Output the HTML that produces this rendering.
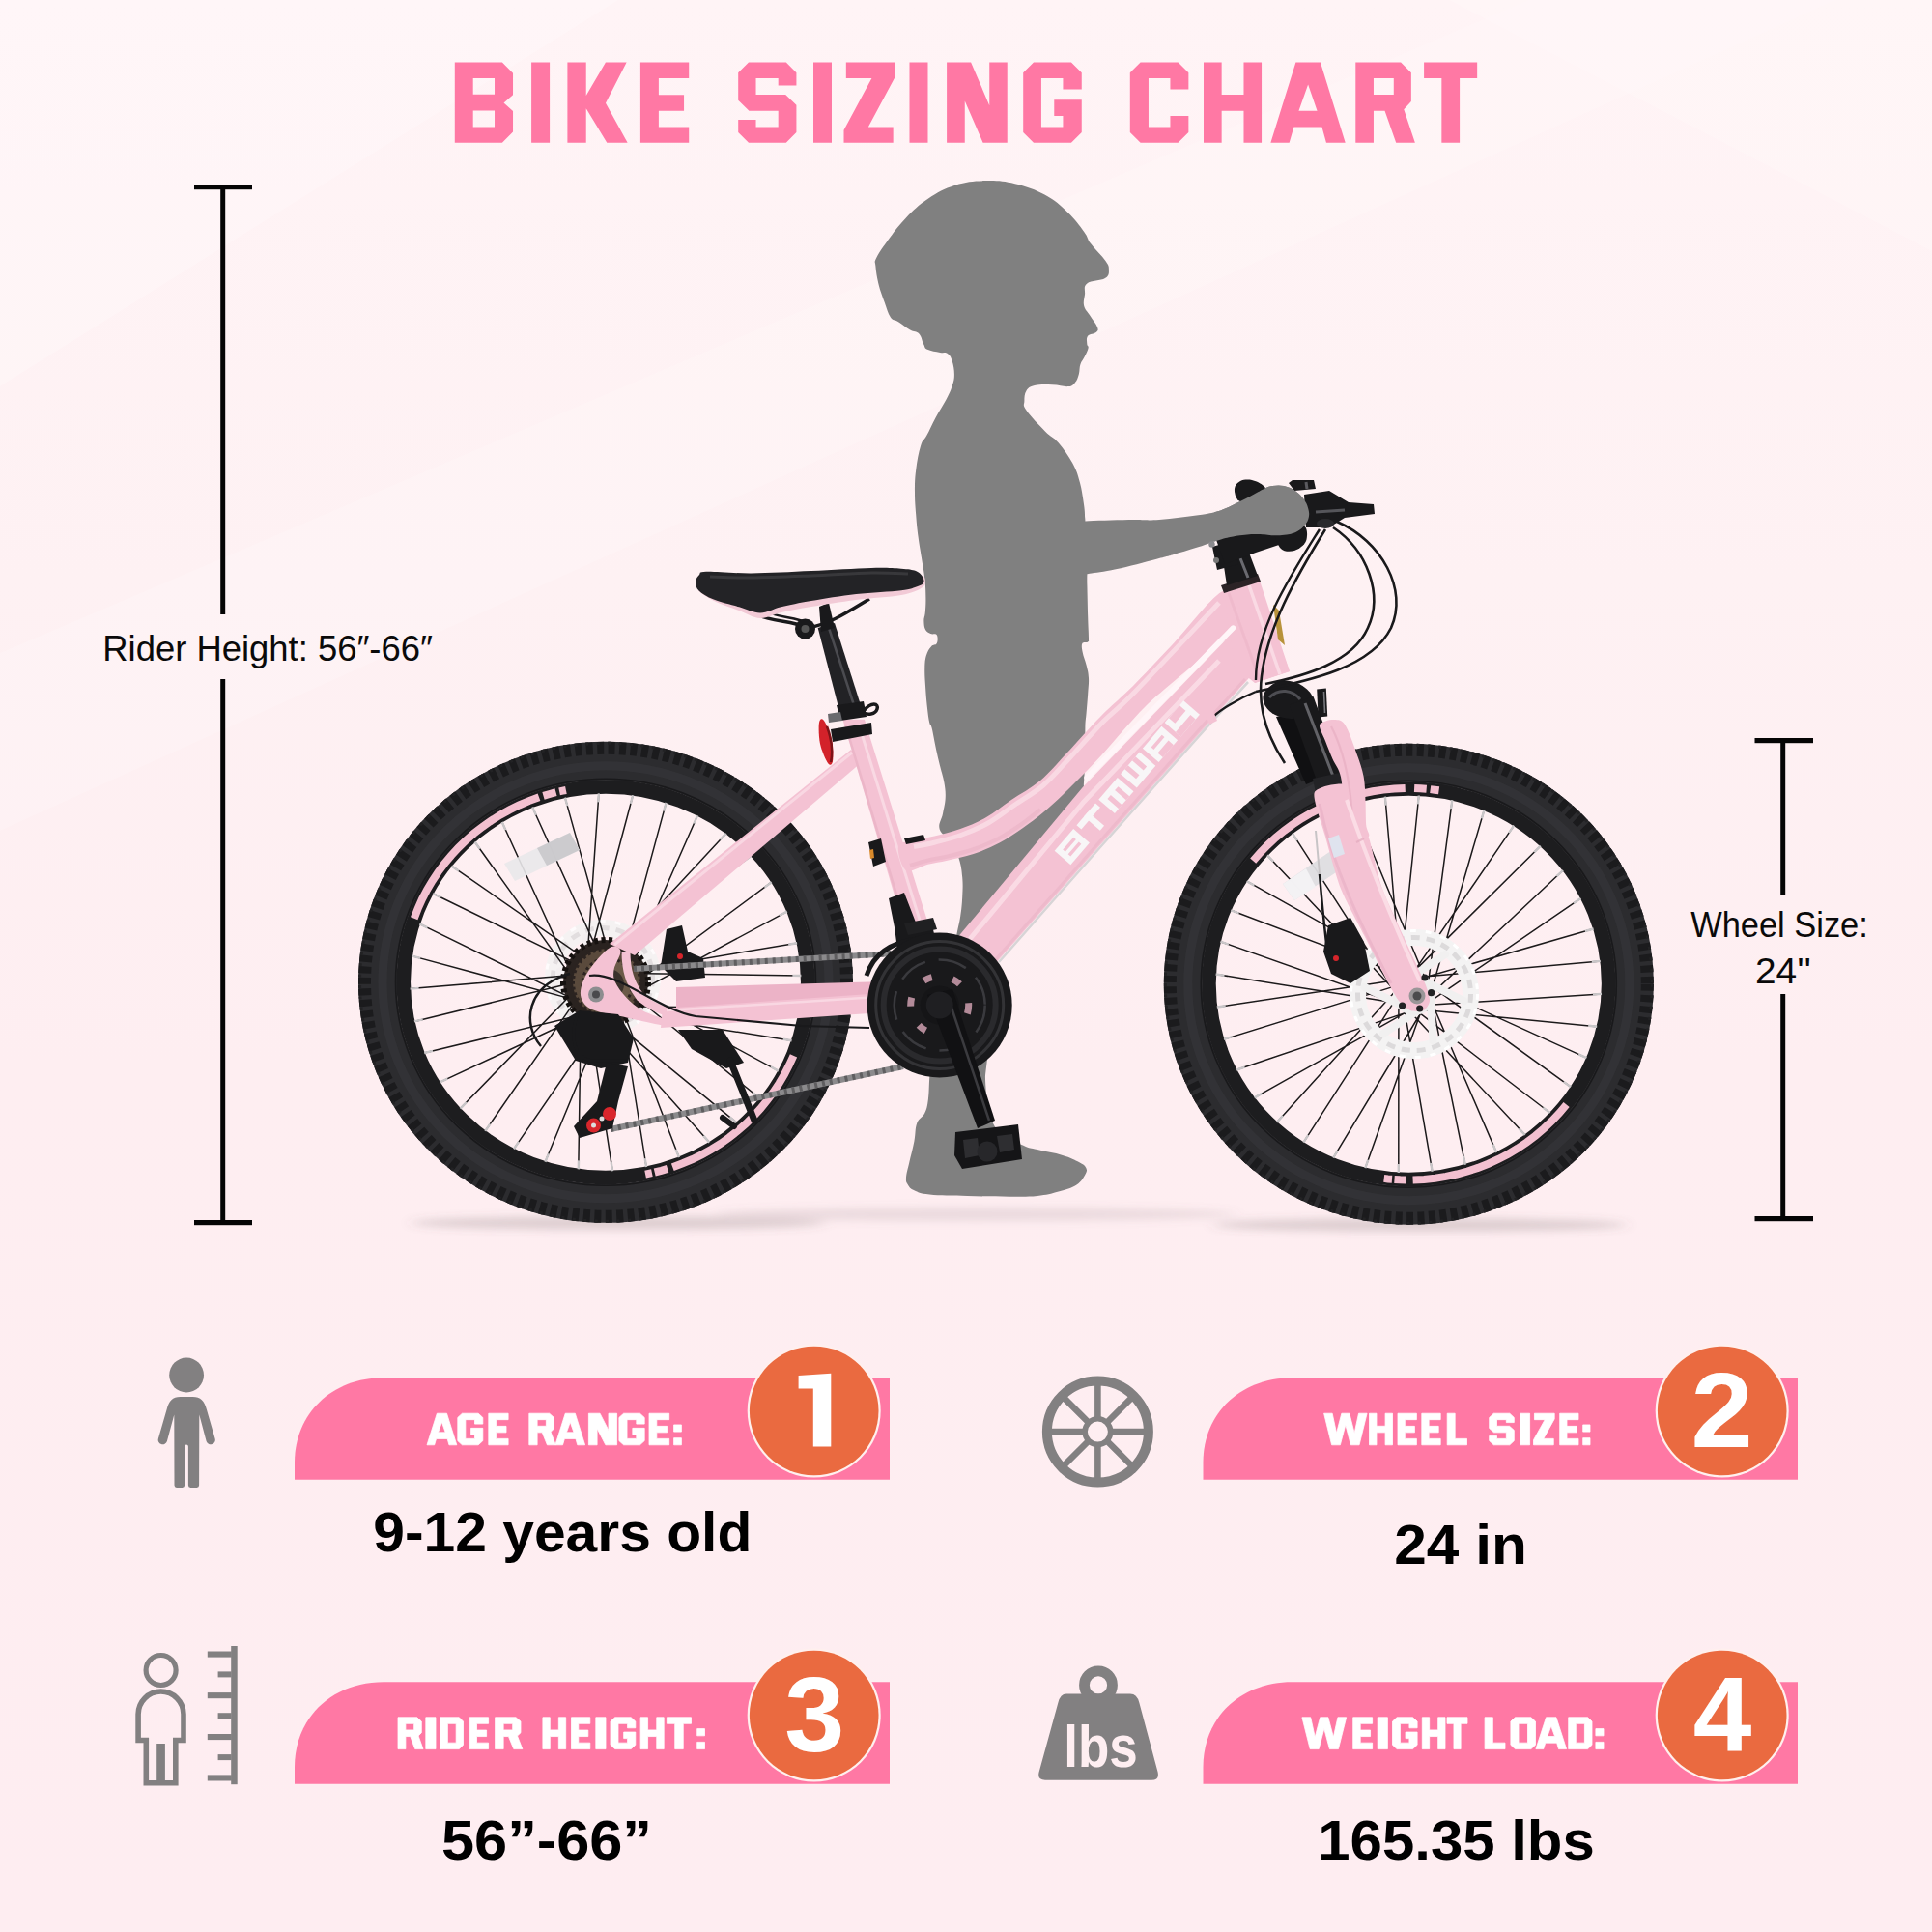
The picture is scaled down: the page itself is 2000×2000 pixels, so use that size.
<!DOCTYPE html>
<html><head><meta charset="utf-8"><title>Bike Sizing Chart</title>
<style>html,body{margin:0;padding:0;background:#feeef1;}body{width:2000px;height:2000px;overflow:hidden;font-family:"Liberation Sans",sans-serif;}svg{display:block;}</style>
</head><body>
<svg width="2000" height="2000" viewBox="0 0 2000 2000">
<defs><filter id="blur6" x="-20%" y="-200%" width="140%" height="500%"><feGaussianBlur stdDeviation="7 4"/></filter></defs>
<defs><linearGradient id="bgg" x1="0" y1="0" x2="0" y2="1"><stop offset="0" stop-color="#fff4f6"/><stop offset="0.3" stop-color="#fef1f3"/><stop offset="0.55" stop-color="#feeef1"/><stop offset="1" stop-color="#feedf1"/></linearGradient></defs>
<rect x="0" y="0" width="2000" height="2000" fill="url(#bgg)"/>
<polygon points="0,0 640,0 0,400" fill="#ffffff" opacity="0.22"/>
<polygon points="0,676 1583,0 1900,0 0,860" fill="#ffffff" opacity="0.16"/>
<polygon points="1500,0 2000,0 2000,260" fill="#ffffff" opacity="0.18"/>
<path d="M470.80 64.50 L519.86 64.50 L531.03 75.75 L531.03 98.32 L521.53 106.57 L531.03 115.06 L531.03 136.55 L519.86 147.80 L470.80 147.80ZM489.71 80.99 L512.03 80.99 L512.03 97.65 L489.71 97.65ZM489.71 114.40 L512.03 114.40 L512.03 131.39 L489.71 131.39ZM550.10 64.50 L569.09 64.50 L569.09 147.80 L550.10 147.80ZM587.40 64.50 L606.73 64.50 L606.73 98.99 L626.97 64.50 L648.63 64.50 L626.97 106.73 L649.63 147.80 L628.30 147.80 L606.73 112.31 L606.73 147.80 L587.40 147.80ZM662.90 64.50 L713.21 64.50 L713.21 80.99 L681.89 80.99 L681.89 98.15 L708.05 98.15 L708.05 114.65 L681.89 114.65 L681.89 131.39 L713.21 131.39 L713.21 147.80 L662.90 147.80ZM775.03 64.50 L813.76 64.50 L824.43 75.33 L824.43 88.49 L805.68 88.49 L805.68 80.99 L782.53 80.99 L782.53 97.90 L813.18 97.90 L824.43 108.73 L824.43 136.97 L813.76 147.80 L775.03 147.80 L764.20 136.97 L764.20 123.89 L782.53 123.89 L782.53 131.39 L805.68 131.39 L805.68 114.65 L775.45 114.65 L764.20 103.65 L764.20 75.33ZM842.00 64.50 L860.99 64.50 L860.99 147.80 L842.00 147.80ZM875.83 64.50 L926.98 64.50 L926.98 79.08 L898.82 131.39 L924.65 131.39 L924.65 147.80 L873.50 147.80 L873.50 134.72 L902.41 80.99 L875.83 80.99ZM941.50 64.50 L960.49 64.50 L960.49 147.80 L941.50 147.80ZM980.10 64.50 L1005.09 64.50 L1024.25 109.15 L1024.25 64.50 L1042.74 64.50 L1042.74 147.80 L1017.59 147.80 L998.76 104.48 L998.76 147.80 L980.10 147.80ZM1070.03 64.50 L1108.93 64.50 L1119.76 75.33 L1119.76 92.41 L1100.43 92.41 L1100.43 80.99 L1077.94 80.99 L1077.94 131.39 L1100.43 131.39 L1100.43 119.89 L1091.27 119.89 L1091.27 103.23 L1119.76 103.23 L1119.76 136.97 L1108.93 147.80 L1070.03 147.80 L1059.20 136.97 L1059.20 75.33ZM1180.63 64.50 L1219.53 64.50 L1230.36 75.33 L1230.36 92.41 L1211.45 92.41 L1211.45 80.99 L1188.96 80.99 L1188.96 131.39 L1211.45 131.39 L1211.45 119.89 L1230.36 119.89 L1230.36 136.97 L1219.53 147.80 L1180.63 147.80 L1169.80 136.97 L1169.80 75.33ZM1246.00 64.50 L1264.66 64.50 L1264.66 97.90 L1287.48 97.90 L1287.48 64.50 L1306.06 64.50 L1306.06 147.80 L1287.48 147.80 L1287.48 114.65 L1264.66 114.65 L1264.66 147.80 L1246.00 147.80ZM1341.39 64.50 L1366.88 64.50 L1392.70 147.80 L1372.96 147.80 L1368.46 131.39 L1339.39 131.39 L1334.64 147.80 L1315.40 147.80ZM1354.13 87.49 L1363.55 114.65 L1344.47 114.65ZM1403.30 64.50 L1450.11 64.50 L1460.86 75.33 L1460.86 104.90 L1453.28 113.23 L1464.86 147.80 L1445.20 147.80 L1433.54 114.65 L1421.96 114.65 L1421.96 147.80 L1403.30 147.80ZM1421.96 80.99 L1442.78 80.99 L1442.78 97.90 L1421.96 97.90ZM1474.10 64.50 L1529.16 64.50 L1529.16 80.99 L1511.09 80.99 L1511.09 147.80 L1492.34 147.80 L1492.34 80.99 L1474.10 80.99Z" fill="#ff78a4" fill-rule="evenodd"/>
<g fill="#050505">
<rect x="201" y="191" width="60" height="5.2"/>
<rect x="201" y="1263" width="60" height="5.2"/>
<rect x="228.2" y="191" width="5" height="445"/>
<rect x="228.2" y="703" width="5" height="563"/>
<rect x="1816.5" y="764" width="60.5" height="5.2"/>
<rect x="1816.5" y="1259" width="60.5" height="5.2"/>
<rect x="1843.2" y="764" width="5" height="162.5"/>
<rect x="1843.2" y="1029" width="5" height="233"/>
</g>
<g font-family="Liberation Sans, sans-serif" fill="#0a0a0a">
<text id="t_rh" x="106.3" y="684" font-size="37" textLength="341.5" lengthAdjust="spacingAndGlyphs">Rider Height: 56″-66″</text>
<text id="t_ws" x="1750.2" y="969.5" font-size="36" textLength="183.6" lengthAdjust="spacingAndGlyphs">Wheel Size:</text>
<text id="t_24" x="1817" y="1018" font-size="36" textLength="58" lengthAdjust="spacingAndGlyphs">24''</text>
</g>
<g filter="url(#blur6)">
<ellipse cx="640" cy="1266" rx="215" ry="7" fill="#6b5960" opacity="0.22"/>
<ellipse cx="1470" cy="1268" rx="215" ry="7" fill="#6b5960" opacity="0.22"/>
<ellipse cx="1010" cy="1257" rx="270" ry="7" fill="#8a747c" opacity="0.16"/>
</g>
<path id="child" d="M1019.8 187.1 C1032.2 186.8 1038.4 187.3 1050.8 190.2 C1063.2 193.1 1071.0 195.9 1081.9 201.8 C1092.8 207.7 1097.1 212.1 1105.2 219.7 C1113.3 227.3 1117.4 233.4 1122.2 239.9 C1127.0 246.4 1124.8 246.4 1129.2 252.3 C1133.6 258.2 1140.3 264.1 1144.0 269.4 C1147.7 274.7 1147.9 275.0 1147.9 278.7 C1147.9 282.4 1148.5 285.1 1144.0 288.0 C1139.5 290.9 1129.5 290.0 1125.3 293.4 C1121.1 296.8 1123.6 300.4 1123.0 305.1 C1122.4 309.8 1121.1 312.4 1122.2 316.7 C1123.3 321.0 1125.7 322.4 1128.4 326.8 C1131.1 331.2 1134.6 335.1 1135.9 338.5 C1137.2 341.9 1136.7 342.0 1134.7 343.9 C1132.7 345.8 1128.0 345.3 1126.1 347.8 C1124.2 350.3 1125.2 353.8 1125.3 356.3 C1125.4 358.8 1127.1 357.7 1126.6 360.2 C1126.1 362.7 1124.6 365.4 1123.0 368.8 C1121.4 372.2 1119.6 373.6 1118.4 377.3 C1117.2 381.0 1117.9 383.7 1116.8 387.4 C1115.7 391.1 1115.1 393.4 1112.9 395.9 C1110.7 398.4 1110.6 399.6 1105.9 400.1 C1101.2 400.6 1096.6 398.5 1089.6 398.3 C1082.6 398.1 1076.4 397.8 1071.0 399.0 C1065.6 400.2 1064.6 401.2 1062.5 404.5 C1060.4 407.8 1060.4 411.3 1060.4 415.3 C1060.4 419.3 1058.2 418.5 1062.5 424.7 C1066.8 430.9 1075.3 439.7 1081.9 446.4 C1088.5 453.1 1089.9 451.5 1095.6 458.2 C1101.3 464.9 1106.0 471.5 1110.5 479.8 C1115.0 488.1 1115.6 491.0 1117.9 499.6 C1120.2 508.2 1121.0 515.5 1122.1 522.8 C1123.2 530.1 1122.9 532.7 1123.2 536.0 C1123.5 539.3 1123.4 538.7 1123.4 539.4 C1123.4 540.1 1114.4 539.7 1123.4 539.4 C1132.4 539.1 1153.1 538.4 1168.4 538.1 C1183.7 537.8 1185.6 539.0 1200.0 538.0 C1214.4 537.0 1228.3 535.0 1240.4 533.3 C1252.5 531.6 1253.6 531.3 1260.6 529.3 C1267.6 527.3 1268.7 526.3 1275.4 523.2 C1282.1 520.1 1287.7 517.2 1294.2 513.8 C1300.7 510.4 1303.1 508.5 1307.7 506.4 C1312.3 504.3 1312.8 503.8 1317.1 503.1 C1321.4 502.4 1324.4 502.0 1329.2 503.1 C1334.0 504.2 1337.3 505.7 1341.3 508.4 C1345.3 511.1 1346.8 513.0 1349.4 516.5 C1352.0 520.0 1353.0 522.1 1354.1 525.9 C1355.2 529.7 1355.5 531.9 1354.8 535.4 C1354.1 538.9 1353.1 540.4 1350.7 543.4 C1348.3 546.4 1346.4 548.2 1342.6 550.2 C1338.8 552.2 1336.7 552.7 1331.9 553.5 C1327.1 554.3 1324.3 554.3 1318.4 554.2 C1312.5 554.1 1309.3 552.9 1302.3 552.9 C1295.3 552.9 1290.9 553.1 1283.4 554.2 C1275.9 555.3 1273.2 555.8 1264.6 558.2 C1256.0 560.6 1250.6 563.1 1240.4 566.3 C1230.2 569.5 1221.3 572.2 1213.5 574.4 C1205.7 576.6 1212.3 574.7 1201.6 577.5 C1190.9 580.3 1174.5 585.0 1160.2 588.2 C1145.9 591.4 1137.0 592.3 1130.0 593.5 C1123.0 594.7 1126.3 593.9 1125.4 594.0 C1124.5 594.1 1125.4 591.7 1125.4 594.0 C1125.4 596.3 1125.2 596.6 1125.4 605.6 C1125.6 614.6 1125.9 627.9 1126.2 638.8 C1126.5 649.7 1127.0 655.2 1127.0 660.3 C1127.0 665.4 1127.5 663.2 1126.2 664.4 C1124.9 665.6 1121.5 663.9 1120.4 666.1 C1119.3 668.3 1119.9 670.7 1120.7 675.2 C1121.5 679.7 1123.3 683.2 1124.6 688.5 C1125.9 693.8 1126.7 695.7 1127.0 701.7 C1127.3 707.7 1126.7 711.0 1126.2 718.3 C1125.7 725.6 1125.2 731.1 1124.6 738.1 C1124.0 745.1 1123.6 745.1 1123.4 753.5 C1123.2 761.9 1123.7 768.7 1123.4 780.0 C1123.1 791.3 1122.9 799.6 1122.0 810.0 C1121.1 820.4 1125.4 818.0 1119.0 832.0 C1112.6 846.0 1103.4 860.4 1090.0 880.0 C1076.6 899.6 1063.2 910.0 1052.0 930.0 C1040.8 950.0 1038.4 958.0 1034.0 980.0 C1029.6 1002.0 1032.5 1016.2 1030.0 1040.0 C1027.5 1063.8 1023.6 1082.1 1021.7 1098.8 C1019.8 1115.5 1019.7 1112.8 1020.3 1123.5 C1020.9 1134.2 1021.7 1142.8 1024.6 1152.5 C1027.5 1162.2 1028.0 1165.3 1035.0 1172.0 C1042.0 1178.7 1051.6 1182.2 1059.4 1185.8 C1067.2 1189.4 1065.8 1188.1 1073.9 1190.1 C1082.0 1192.1 1091.3 1193.3 1100.0 1195.9 C1108.7 1198.5 1112.5 1200.6 1117.4 1203.2 C1122.3 1205.8 1123.1 1206.4 1124.3 1209.0 C1125.5 1211.6 1125.2 1212.7 1123.2 1216.2 C1121.2 1219.7 1120.0 1222.9 1114.5 1226.4 C1109.0 1229.9 1103.8 1231.3 1095.7 1233.6 C1087.6 1235.9 1084.1 1237.0 1073.9 1238.0 C1063.7 1239.0 1059.4 1238.7 1044.9 1238.7 C1030.4 1238.7 1017.9 1238.4 1001.4 1238.0 C984.9 1237.6 973.3 1237.7 962.3 1236.5 C951.3 1235.3 950.9 1234.2 946.4 1232.2 C941.9 1230.2 941.6 1229.0 939.9 1226.4 C938.2 1223.8 937.7 1223.7 938.0 1219.1 C938.3 1214.5 939.6 1210.7 941.3 1203.2 C943.0 1195.7 944.8 1189.5 946.4 1181.4 C948.0 1173.3 947.1 1168.4 949.3 1162.6 C951.5 1156.8 954.9 1157.4 957.2 1152.5 C959.5 1147.6 959.9 1145.5 960.9 1138.0 C961.9 1130.5 961.5 1126.4 962.3 1114.8 C963.1 1103.2 963.1 1095.0 965.0 1080.0 C966.9 1065.0 968.8 1054.0 972.0 1040.0 C975.2 1026.0 978.2 1018.9 981.0 1010.0 C983.8 1001.1 984.3 1003.9 986.1 995.7 C987.9 987.5 988.6 978.2 990.2 968.8 C991.8 959.4 993.0 956.7 994.2 948.6 C995.4 940.5 995.8 936.5 996.2 928.4 C996.6 920.3 996.9 916.0 996.2 908.2 C995.5 900.4 995.1 896.6 992.9 889.4 C990.7 882.2 989.0 878.2 985.0 872.0 C981.0 865.8 974.5 864.3 972.7 858.4 C970.9 852.5 974.8 848.8 976.0 842.3 C977.2 835.8 978.4 832.6 978.7 826.1 C979.0 819.6 978.5 816.5 977.4 810.0 C976.3 803.5 975.1 801.1 973.3 793.8 C971.5 786.5 970.3 781.7 968.6 773.6 C966.9 765.5 965.9 758.6 964.6 753.5 C963.3 748.4 963.2 752.5 962.2 748.1 C961.2 743.7 960.6 738.8 959.8 731.5 C959.0 724.2 958.6 719.5 958.1 711.6 C957.6 703.7 957.1 698.4 957.3 691.8 C957.5 685.2 957.6 683.0 958.9 678.5 C960.2 674.0 961.7 671.9 963.9 669.4 C966.1 666.9 968.5 668.5 969.7 666.1 C970.9 663.7 971.0 659.3 969.7 657.3 C968.4 655.3 965.7 657.2 963.4 656.1 C961.1 655.0 959.5 654.6 958.1 652.0 C956.7 649.4 956.5 646.5 956.4 642.9 C956.3 639.3 957.4 638.6 957.8 633.8 C958.2 629.0 958.5 625.9 958.4 618.9 C958.3 611.9 958.2 607.3 957.3 599.0 C956.4 590.7 955.3 586.1 954.0 577.5 C952.7 568.9 951.8 564.8 950.6 555.9 C949.4 547.0 948.9 542.1 948.2 532.8 C947.5 523.5 947.0 518.9 947.0 509.6 C947.0 500.3 947.0 496.0 948.2 486.4 C949.4 476.8 950.9 468.6 953.1 461.5 C955.3 454.4 956.1 456.9 959.2 451.1 C962.3 445.3 964.5 439.9 968.5 432.4 C972.5 424.9 976.0 420.3 979.4 413.8 C982.8 407.3 983.9 405.1 985.6 399.8 C987.3 394.5 987.9 392.7 987.9 387.4 C987.9 382.1 987.0 377.7 985.6 373.4 C984.2 369.1 983.4 367.7 980.9 366.0 C978.4 364.3 977.4 365.7 973.2 364.9 C969.0 364.1 963.4 363.5 960.0 361.8 C956.6 360.1 957.8 359.6 956.1 356.3 C954.4 353.0 954.2 348.4 951.4 345.5 C948.6 342.6 946.4 344.1 942.1 341.6 C937.8 339.1 933.7 335.6 929.7 333.0 C925.7 330.4 924.7 332.4 921.9 328.4 C919.1 324.4 918.2 319.7 915.7 312.9 C913.2 306.1 911.4 301.7 909.5 294.2 C907.6 286.7 906.9 281.0 906.4 275.6 C905.9 270.2 904.7 272.3 907.2 267.0 C909.7 261.7 912.7 257.4 918.8 249.2 C924.9 241.0 929.1 234.6 937.5 225.9 C945.9 217.2 950.5 212.5 960.7 205.7 C970.9 198.9 976.9 195.4 988.7 191.7 C1000.5 188.0 1007.4 187.4 1019.8 187.1Z" fill="#808080"/>

<g id="rearwheel">
<g opacity="0.80">
<circle cx="624.0" cy="1012.0" r="51.5" fill="none" stroke="#f4f3f3" stroke-width="17"/>
<circle cx="624.0" cy="1012.0" r="51.5" fill="none" stroke="#dcdadb" stroke-width="5" stroke-dasharray="9 7"/>
<circle cx="624.0" cy="1012.0" r="58.5" fill="none" stroke="#ffffff" stroke-width="3" stroke-dasharray="6 10"/>
<path d="M640.9 1018.2 L640.9 1053.7M627.1 1029.7 L596.3 1047.5M610.2 1023.6 L579.4 1005.7M607.1 1005.8 L607.1 970.3M620.9 994.3 L651.7 976.5M637.8 1000.4 L668.6 1018.3" stroke="#f1f0f0" stroke-width="8" stroke-linecap="round" fill="none"/>
<circle cx="624.0" cy="1012.0" r="22" fill="#efeeee"/>
</g>
<ellipse cx="627.0" cy="1016.8" rx="236.0" ry="229.0" fill="none" stroke="#2c2c2f" stroke-width="40.0"/>
<ellipse cx="627.0" cy="1016.8" rx="249.5" ry="242.5" fill="none" stroke="#1b1b1d" stroke-width="13" stroke-dasharray="7 4.5"/>
<ellipse cx="627.0" cy="1016.8" rx="254.5" ry="247.5" fill="none" stroke="#222224" stroke-width="3" stroke-dasharray="3 8.5"/>
<ellipse cx="627.0" cy="1016.8" rx="231.0" ry="224.0" fill="none" stroke="#353538" stroke-width="9" opacity="0.8"/>
<ellipse cx="627.0" cy="1016.8" rx="217.5" ry="210.5" fill="none" stroke="#19191b" stroke-width="1.6"/>
<ellipse cx="627.0" cy="1016.8" rx="209.2" ry="202.2" fill="none" stroke="#1d1d1f" stroke-width="14.5"/>
<path d="M558.0 825.3 L547.6 829.1 L537.4 833.5 L527.4 838.4 L517.8 843.7 L508.4 849.6 L499.4 855.9 L490.7 862.7 L482.4 869.9 L474.5 877.6 L467.1 885.6 L460.1 894.0 L453.6 902.7 L447.6 911.8 L442.0 921.2 L437.0 930.8 L432.6 940.7 L428.7 950.8" fill="none" stroke="#f3c0d0" stroke-width="8"/>
<path d="M696.3 1208.2 L706.7 1204.3 L716.9 1200.0 L726.9 1195.1 L736.5 1189.7 L745.9 1183.9 L754.9 1177.5 L763.5 1170.7 L771.8 1163.5 L779.6 1155.9 L787.1 1147.8 L794.0 1139.4 L800.5 1130.7 L806.5 1121.6 L812.0 1112.3 L817.0 1102.6 L821.5 1092.8" fill="none" stroke="#f3c0d0" stroke-width="8"/>
<path d="M585.9 818.0 L582.5 818.7 L579.1 819.4" fill="none" stroke="#f3c0d0" stroke-width="8"/>
<path d="M575.5 820.2 L569.0 822.0 L562.5 823.9" fill="none" stroke="#f3c0d0" stroke-width="8"/>
<path d="M668.1 1215.6 L671.5 1214.9 L674.9 1214.2" fill="none" stroke="#f3c0d0" stroke-width="8"/>
<path d="M677.7 1213.5 L684.5 1211.8 L691.1 1209.8" fill="none" stroke="#f3c0d0" stroke-width="8"/>
<path d="M627.8 1007.2 L829.4 1010.0M623.8 1010.2 L825.1 976.2M634.9 1040.4 L814.8 943.6M633.9 1035.4 L798.7 913.2M614.2 1007.2 L777.5 886.0M613.0 1012.1 L751.7 862.7M640.9 1028.1 L722.1 844.2M637.0 1024.9 L689.6 830.9M603.7 1016.0 L655.2 823.2M606.0 1020.5 L619.9 821.4M637.6 1014.8 L584.9 825.6M632.5 1014.9 L551.1 835.5M601.3 1029.5 L519.7 851.0M606.0 1031.5 L491.5 871.5M626.5 1006.8 L467.4 896.4M622.7 1010.1 L448.2 925.0M608.1 1041.3 L434.4 956.4M613.0 1039.9 L426.5 989.6M612.9 1007.7 L424.6 1023.6M612.1 1012.7 L428.9 1057.4M621.0 1046.0 L439.2 1090.0M623.8 1041.8 L455.3 1120.4M603.0 1017.2 L476.5 1147.6M605.6 1021.6 L502.3 1170.9M633.9 1041.3 L531.9 1189.4M633.3 1036.3 L564.4 1202.7M601.6 1030.8 L598.8 1210.4M606.4 1032.5 L634.1 1212.2M640.7 1029.5 L669.1 1208.0M637.0 1026.0 L702.9 1198.1M609.2 1042.2 L734.3 1182.6M614.0 1040.4 L762.5 1162.1M638.3 1016.0 L786.6 1137.2M633.3 1015.7 L805.8 1108.6M622.4 1046.0 L819.6 1077.2M624.9 1041.5 L827.5 1044.0" stroke="#1c1a1b" stroke-width="1.5" fill="none"/>
<path d="M829.4 1010.0 L820.4 1009.9M825.1 976.2 L816.2 977.7M814.8 943.6 L806.8 947.8M798.7 913.2 L791.5 918.6M777.5 886.0 L770.3 891.3M751.7 862.7 L745.5 869.3M722.1 844.2 L718.4 852.4M689.6 830.9 L687.2 839.6M655.2 823.2 L652.9 831.9M619.9 821.4 L619.3 830.4M584.9 825.6 L587.3 834.2M551.1 835.5 L554.9 843.7M519.7 851.0 L523.4 859.2M491.5 871.5 L496.7 878.8M467.4 896.4 L474.8 901.6M448.2 925.0 L456.3 929.0M434.4 956.4 L442.5 960.3M426.5 989.6 L435.2 991.9M424.6 1023.6 L433.6 1022.9M428.9 1057.4 L437.7 1055.3M439.2 1090.0 L448.0 1087.9M455.3 1120.4 L463.4 1116.6M476.5 1147.6 L482.8 1141.2M502.3 1170.9 L507.4 1163.5M531.9 1189.4 L537.0 1182.0M564.4 1202.7 L567.9 1194.4M598.8 1210.4 L599.0 1201.4M634.1 1212.2 L632.7 1203.3M669.1 1208.0 L667.7 1199.1M702.9 1198.1 L699.6 1189.7M734.3 1182.6 L728.3 1175.9M762.5 1162.1 L755.5 1156.4M786.6 1137.2 L779.6 1131.5M805.8 1108.6 L797.9 1104.3M819.6 1077.2 L810.7 1075.8M827.5 1044.0 L818.5 1043.9" stroke="#c9c6c8" stroke-width="2.4" fill="none"/>
</g>
<g id="frontwheel">
<ellipse cx="1458.3" cy="1018.7" rx="233.5" ry="229.0" fill="none" stroke="#2c2c2f" stroke-width="40.0"/>
<ellipse cx="1458.3" cy="1018.7" rx="247.0" ry="242.5" fill="none" stroke="#1b1b1d" stroke-width="13" stroke-dasharray="7 4.5"/>
<ellipse cx="1458.3" cy="1018.7" rx="252.0" ry="247.5" fill="none" stroke="#222224" stroke-width="3" stroke-dasharray="3 8.5"/>
<ellipse cx="1458.3" cy="1018.7" rx="228.5" ry="224.0" fill="none" stroke="#353538" stroke-width="9" opacity="0.8"/>
<ellipse cx="1458.3" cy="1018.7" rx="215.0" ry="210.5" fill="none" stroke="#19191b" stroke-width="1.6"/>
<ellipse cx="1458.3" cy="1018.7" rx="206.8" ry="202.2" fill="none" stroke="#1d1d1f" stroke-width="14.5"/>
<path d="M1454.7 816.0 L1443.4 816.5 L1432.1 817.6 L1421.0 819.3 L1409.9 821.6 L1399.0 824.4 L1388.3 827.9 L1377.7 831.9 L1367.4 836.5 L1357.4 841.6 L1347.7 847.2 L1338.3 853.4 L1329.3 860.0 L1320.6 867.1 L1312.4 874.7 L1304.6 882.7 L1297.2 891.1" fill="none" stroke="#f3c0d0" stroke-width="8"/>
<path d="M1462.6 1221.4 L1474.1 1220.9 L1485.5 1219.7 L1496.9 1217.9 L1508.1 1215.5 L1519.2 1212.5 L1530.0 1208.9 L1540.7 1204.7 L1551.1 1200.0 L1561.2 1194.7 L1571.0 1188.8 L1580.5 1182.5 L1589.6 1175.6 L1598.2 1168.2 L1606.5 1160.4 L1614.3 1152.2 L1621.6 1143.5" fill="none" stroke="#f3c0d0" stroke-width="8"/>
<path d="M1489.6 818.3 L1485.2 817.7 L1480.7 817.1" fill="none" stroke="#f3c0d0" stroke-width="8"/>
<path d="M1476.7 816.8 L1470.4 816.3 L1464.1 816.0" fill="none" stroke="#f3c0d0" stroke-width="8"/>
<path d="M1432.7 1219.9 L1436.8 1220.4 L1441.0 1220.7" fill="none" stroke="#f3c0d0" stroke-width="8"/>
<path d="M1443.5 1220.9 L1449.4 1221.3 L1455.4 1221.4" fill="none" stroke="#f3c0d0" stroke-width="8"/>
<path d="M1468.4 1011.6 L1656.8 994.9M1465.2 1014.5 L1649.6 961.5M1476.8 1039.2 L1636.5 929.9M1475.7 1035.0 L1618.0 901.0M1456.8 1012.6 L1594.7 875.7M1456.2 1016.9 L1567.2 854.7M1481.0 1028.3 L1536.4 838.7M1477.4 1025.9 L1503.3 828.2M1448.6 1020.8 L1468.8 823.5M1450.9 1024.5 L1433.9 824.7M1477.2 1017.3 L1399.8 831.7M1472.9 1017.7 L1367.5 844.5M1447.6 1032.4 L1337.9 862.6M1451.7 1033.7 L1312.0 885.4M1467.2 1011.3 L1290.6 912.2M1464.2 1014.4 L1274.2 942.3M1454.2 1041.9 L1263.4 974.7M1458.3 1040.3 L1258.6 1008.5M1455.8 1013.1 L1259.8 1042.5M1455.4 1017.4 L1267.0 1075.9M1465.5 1044.9 L1280.1 1107.5M1467.5 1041.1 L1298.6 1136.4M1448.1 1021.9 L1321.9 1161.7M1450.6 1025.4 L1349.4 1182.7M1476.0 1040.0 L1380.2 1198.7M1475.1 1035.8 L1413.3 1209.2M1447.9 1033.5 L1447.8 1213.9M1452.1 1034.6 L1482.7 1212.7M1480.9 1029.5 L1516.8 1205.7M1477.5 1026.8 L1549.1 1192.9M1455.2 1042.6 L1578.7 1174.8M1459.1 1040.7 L1604.6 1152.0M1477.9 1018.2 L1626.0 1125.2M1473.6 1018.4 L1642.4 1095.1M1466.7 1044.8 L1653.2 1062.7M1468.4 1040.9 L1658.0 1028.9" stroke="#1c1a1b" stroke-width="1.5" fill="none"/>
<path d="M1656.8 994.9 L1647.8 995.7M1649.6 961.5 L1640.9 964.0M1636.5 929.9 L1629.1 935.0M1618.0 901.0 L1611.5 907.2M1594.7 875.7 L1588.3 882.1M1567.2 854.7 L1562.1 862.2M1536.4 838.7 L1533.9 847.4M1503.3 828.2 L1502.1 837.1M1468.8 823.5 L1467.9 832.4M1433.9 824.7 L1434.7 833.6M1399.8 831.7 L1403.3 840.0M1367.5 844.5 L1372.2 852.2M1337.9 862.6 L1342.8 870.1M1312.0 885.4 L1318.2 891.9M1290.6 912.2 L1298.4 916.6M1274.2 942.3 L1282.6 945.5M1263.4 974.7 L1271.9 977.7M1258.6 1008.5 L1267.5 1009.9M1259.8 1042.5 L1268.7 1041.2M1267.0 1075.9 L1275.6 1073.2M1280.1 1107.5 L1288.6 1104.6M1298.6 1136.4 L1306.4 1131.9M1321.9 1161.7 L1327.9 1155.0M1349.4 1182.7 L1354.2 1175.1M1380.2 1198.7 L1384.8 1191.0M1413.3 1209.2 L1416.3 1200.7M1447.8 1213.9 L1447.8 1204.9M1482.7 1212.7 L1481.2 1203.9M1516.8 1205.7 L1515.0 1196.8M1549.1 1192.9 L1545.5 1184.6M1578.7 1174.8 L1572.5 1168.3M1604.6 1152.0 L1597.4 1146.6M1626.0 1125.2 L1618.7 1119.9M1642.4 1095.1 L1634.2 1091.4M1653.2 1062.7 L1644.2 1061.8M1658.0 1028.9 L1649.0 1029.5" stroke="#c9c6c8" stroke-width="2.4" fill="none"/>
</g>
<polygon points="522.0,894.0 590.0,862.0 600.0,880.0 533.0,912.0" fill="#e9e8ea" opacity="0.9"/>
<polygon points="556.0,878.0 590.0,862.0 600.0,880.0 566.0,896.0" fill="#c9c8cb" opacity="0.9"/>
<polygon points="1328.0,915.0 1382.0,878.0 1392.0,897.0 1340.0,932.0" fill="#dedde0" opacity="0.95"/>
<polygon points="1328.0,915.0 1352.0,899.0 1362.0,918.0 1340.0,932.0" fill="#f3f2f4" opacity="0.95"/>
<polygon points="700.0,1022.0 900.0,1016.5 950.0,1016.0 950.0,1031.0 900.0,1030.0 700.0,1045.0" fill="#ecb3c7" />
<circle cx="627" cy="1017" r="44" fill="#2a2320"/>
<circle cx="627" cy="1017" r="44" fill="none" stroke="#15110f" stroke-width="6" stroke-dasharray="4 3.5"/>
<circle cx="628" cy="1017" r="35" fill="#5a4a3c"/>
<circle cx="628" cy="1017" r="35" fill="none" stroke="#2b2320" stroke-width="4" stroke-dasharray="3 3"/>
<circle cx="629" cy="1018" r="26" fill="#6b5a48"/>
<circle cx="629" cy="1018" r="26" fill="none" stroke="#2b2320" stroke-width="3" stroke-dasharray="3 3"/>
<circle cx="630" cy="1019" r="16" fill="#3a312b"/>
<polygon points="690.0,962.0 706.0,958.0 712.0,985.0 728.0,992.0 730.0,1012.0 700.0,1016.0 684.0,1000.0" fill="#19191b" />
<circle cx="704" cy="990" r="3" fill="#d6252b"/>
<path d="M656 1003 L925 987" fill="none" stroke="#8b8a8c" stroke-width="6.0" />
<path d="M656 1003 L925 987" fill="none" stroke="#5f5e60" stroke-width="6.0" stroke-dasharray="3 5"/>
<path d="M632 1169 L935 1104" fill="none" stroke="#8b8a8c" stroke-width="6.0" />
<path d="M632 1169 L935 1104" fill="none" stroke="#5f5e60" stroke-width="6.0" stroke-dasharray="3 5"/>
<polygon points="702.0,1066.0 748.0,1066.0 770.0,1100.0 752.0,1106.0 716.0,1086.0" fill="#19191b" />
<line x1="756.0" y1="1098.0" x2="781.0" y2="1160.0" stroke="#19191b" stroke-width="7.0" stroke-linecap="round" />
<line x1="748.0" y1="1157.0" x2="760.0" y2="1166.0" stroke="#19191b" stroke-width="6.0" stroke-linecap="round" />
<polygon points="881.0,776.0 892.0,789.0 657.0,989.0 631.0,977.0" fill="#f4c2d3" />
<path d="M882 779 L636 978" fill="none" stroke="#fbe0e8" stroke-width="3.0" opacity="0.7"/>
<path d="M633.0 980.0 C637.4 978.1 642.0 980.9 642.5 984.7 C643.0 988.5 636.7 997.6 635.7 1002.9 C634.8 1008.2 634.7 1011.7 636.8 1016.6 C638.9 1021.5 643.5 1027.6 648.2 1032.5 C653.0 1037.4 658.3 1042.3 665.3 1046.2 C672.3 1050.1 685.9 1053.4 690.0 1056.0 C694.1 1058.6 697.9 1062.7 690.0 1062.0 C682.1 1061.3 655.4 1054.8 642.5 1052.0 C629.6 1049.2 619.7 1048.2 612.9 1045.0 C606.1 1041.8 603.0 1037.4 601.5 1032.5 C600.0 1027.6 601.4 1021.5 603.8 1015.4 C606.2 1009.3 611.1 1001.9 616.0 996.0 C620.9 990.1 628.6 981.9 633.0 980.0Z" fill="#f4c2d3" stroke="none" stroke-width="0.0" />
<path d="M648 985 C648 1004 652 1018 663 1032.5 C672 1040 682 1046 700 1050" fill="none" stroke="#f4c2d3" stroke-width="9.0" />
<polygon points="686.0,1044.0 900.0,1029.0 950.0,1027.0 950.0,1050.0 900.0,1049.0 684.0,1064.0" fill="#f4c2d3" />
<path d="M690 1046 L940 1030" fill="none" stroke="#fbe0e8" stroke-width="2.5" opacity="0.7"/>
<path d="M610 1010 C640 1005 680 1045 720 1052 L830 1062 L900 1064" fill="none" stroke="#19191b" stroke-width="2.2" />
<circle cx="617" cy="1029.5" r="8" fill="#8d8d8f"/><circle cx="617" cy="1029.5" r="4" fill="#4a4a4c"/>
<polygon points="872.4,744.8 894.9,744.8 984.0,1030.0 958.0,1036.0" fill="#f4c2d3" />
<path d="M889 750 L975 1026" fill="none" stroke="#fbe0e8" stroke-width="3.0" opacity="0.75"/>
<path d="M875 750 L960 1032" fill="none" stroke="#e3a9be" stroke-width="2.5" opacity="0.5"/>
<path d="M1267.2 611.5 C1256.2 614.5 1228.7 651.6 1213.0 668.0 C1197.3 684.4 1185.2 697.8 1173.0 710.0 C1160.8 722.2 1151.5 729.3 1140.0 741.0 C1128.5 752.7 1114.5 768.8 1104.0 780.0 C1093.5 791.2 1086.5 800.0 1077.0 808.0 C1067.5 816.0 1056.3 821.7 1047.0 828.0 C1037.7 834.3 1029.9 841.0 1021.1 846.0 C1012.3 851.0 1003.2 854.8 994.2 858.0 C985.2 861.2 975.4 863.5 967.3 865.5 C959.2 867.5 952.0 868.1 945.8 869.9 C939.6 871.6 931.3 870.8 930.0 876.0 C928.7 881.2 932.9 897.9 938.0 901.0 C943.1 904.1 953.5 896.5 960.6 894.8 C967.7 893.1 972.9 892.5 980.7 890.7 C988.6 888.9 998.7 887.0 1007.7 884.0 C1016.7 881.0 1026.0 877.0 1034.6 872.5 C1043.1 868.0 1051.4 862.2 1059.0 857.0 C1066.6 851.8 1073.0 846.8 1080.0 841.0 C1087.0 835.2 1094.2 828.5 1101.0 822.0 C1107.8 815.5 1114.3 808.8 1121.0 802.0 C1127.7 795.2 1134.2 788.5 1141.0 781.0 C1147.8 773.5 1154.5 765.3 1162.0 757.0 C1169.5 748.7 1177.7 739.2 1186.0 731.0 C1194.3 722.8 1201.3 717.2 1212.0 708.0 C1222.7 698.8 1238.8 685.7 1250.0 676.0 C1261.2 666.3 1276.1 660.8 1279.0 650.0 C1281.9 639.2 1278.2 608.5 1267.2 611.5Z" fill="#f4c2d3" stroke="none" stroke-width="0.0" />
<path d="M1262.0 624.0 C1247.5 639.3 1195.0 695.5 1175.0 716.0 C1155.0 736.5 1153.3 735.5 1142.0 747.0 C1130.7 758.5 1117.3 774.0 1107.0 785.0 C1096.7 796.0 1089.5 804.9 1080.0 813.0 C1070.5 821.1 1059.5 827.0 1050.0 833.5 C1040.5 840.0 1032.0 846.9 1023.0 852.0 C1014.0 857.1 1005.2 860.7 996.0 864.0 C986.8 867.3 976.3 869.9 968.0 872.0 C959.7 874.1 949.7 875.8 946.0 876.5" fill="none" stroke="#fbe0e8" stroke-width="5.0" opacity="0.75"/>
<path d="M942.0 896.0 C945.2 895.1 954.5 892.1 961.0 890.5 C967.5 888.9 973.3 888.3 981.0 886.5 C988.7 884.7 998.3 882.5 1007.0 879.5 C1015.7 876.5 1024.7 872.8 1033.0 868.5 C1041.3 864.2 1049.7 858.6 1057.0 853.5 C1064.3 848.4 1073.7 840.6 1077.0 838.0" fill="none" stroke="#e3a9be" stroke-width="4.0" opacity="0.35"/>
<polygon points="1278.0,653.0 1120.6,815.2 990.0,972.0 1030.0,998.0 1131.3,883.5 1250.0,750.0 1300.0,694.0" fill="#f4c2d3" />
<path d="M1262 684 L1122 830 L1004 972" fill="none" stroke="#fbe0e8" stroke-width="5.0" opacity="0.8"/>
<path d="M1292 706 L1250 752 L1131 886 L1034 996" fill="none" stroke="#d7d4d6" stroke-width="2.6" />
<path d="M1289 703 L1247 749 L1128 883 L1031 993" fill="none" stroke="#e3a9be" stroke-width="3.0" opacity="0.35"/>
<polygon points="1267.0,611.0 1300.0,600.0 1335.0,695.0 1299.0,707.0 1278.0,690.0" fill="#f4c2d3" />
<path d="M1276.5 650 L1125 805" fill="none" stroke="#fff5f8" stroke-width="5.4" stroke-linecap="round"/>
<polygon points="1267.0,611.0 1303.0,598.0 1335.0,695.0 1299.0,707.0" fill="#f4c2d3" />
<path d="M1293 606 L1325 698" fill="none" stroke="#fbe0e8" stroke-width="3.5" opacity="0.8"/>
<path d="M1272 614 L1304 704" fill="none" stroke="#e3a9be" stroke-width="3.0" opacity="0.3"/>
<polygon points="1318.0,626.0 1324.0,632.0 1330.0,668.0 1323.0,662.0" fill="#b8923a" />
<g transform="translate(1100,888) rotate(-49.34)">
<rect x="0.00" y="-11.00" width="30.00" height="22.00" fill="#f8f6f7"/>
<rect x="6.50" y="-5.30" width="17.00" height="3.40" fill="#f4c2d3"/>
<rect x="6.50" y="1.90" width="17.00" height="3.40" fill="#f4c2d3"/>
<rect x="35.00" y="-11.00" width="30.00" height="6.50" fill="#f8f6f7"/>
<rect x="46.75" y="-11.00" width="6.50" height="22.00" fill="#f8f6f7"/>
<rect x="70.00" y="-11.00" width="30.00" height="22.00" fill="#f8f6f7"/>
<rect x="76.50" y="-4.50" width="5.25" height="15.50" fill="#f4c2d3"/>
<rect x="88.25" y="-4.50" width="5.25" height="15.50" fill="#f4c2d3"/>
<rect x="105.00" y="-11.00" width="30.00" height="22.00" fill="#f8f6f7"/>
<rect x="111.50" y="-11.00" width="5.25" height="15.50" fill="#f4c2d3"/>
<rect x="123.25" y="-11.00" width="5.25" height="15.50" fill="#f4c2d3"/>
<rect x="140.00" y="-11.00" width="30.00" height="22.00" fill="#f8f6f7"/>
<rect x="146.50" y="-5.00" width="17.00" height="3.60" fill="#f4c2d3"/>
<rect x="146.50" y="4.00" width="17.00" height="7.00" fill="#f4c2d3"/>
<rect x="175.00" y="-11.00" width="30.00" height="22.00" fill="#f8f6f7"/>
<rect x="181.50" y="-11.00" width="17.00" height="8.50" fill="#f4c2d3"/>
<rect x="175.00" y="4.00" width="23.50" height="7.00" fill="#f4c2d3"/>
</g>
<polygon points="574.0,1062.0 600.0,1046.0 640.0,1050.0 656.0,1075.0 650.0,1100.0 622.0,1106.0 596.0,1098.0" fill="#19191b" />
<path d="M598 1050 C588 1075 596 1095 612 1098 L650 1098" fill="none" stroke="#19191b" stroke-width="3.0" />
<polygon points="628.0,1100.0 650.0,1104.0 640.0,1140.0 634.0,1168.0 600.0,1178.0 594.0,1166.0 618.0,1140.0" fill="#19191b" />
<circle cx="614.5" cy="1165" r="7.5" fill="#d9262c"/><circle cx="631" cy="1153" r="7" fill="#d9262c"/>
<circle cx="614.5" cy="1165" r="2.5" fill="#ddd"/><circle cx="623" cy="1158" r="2.5" fill="#ddd"/>
<path d="M560 1083 C540 1060 545 1020 590 1008" fill="none" stroke="#19191b" stroke-width="2.5" />
<polygon points="1321.0,742.0 1340.0,738.0 1367.0,806.0 1352.0,812.0" fill="#101012" />
<g opacity="1.00">
<circle cx="1464.0" cy="1029.0" r="58.5" fill="none" stroke="#f4f3f3" stroke-width="17"/>
<circle cx="1464.0" cy="1029.0" r="58.5" fill="none" stroke="#dcdadb" stroke-width="5" stroke-dasharray="9 7"/>
<circle cx="1464.0" cy="1029.0" r="65.5" fill="none" stroke="#ffffff" stroke-width="3" stroke-dasharray="6 10"/>
<path d="M1480.9 1035.2 L1483.5 1077.2M1467.1 1046.7 L1432.0 1070.0M1450.2 1040.6 L1412.5 1021.8M1447.1 1022.8 L1444.5 980.8M1460.9 1011.3 L1496.0 988.0M1477.8 1017.4 L1515.5 1036.2" stroke="#f1f0f0" stroke-width="8" stroke-linecap="round" fill="none"/>
<circle cx="1464.0" cy="1029.0" r="22" fill="#efeeee"/>
</g>
<polygon points="1375.0,958.0 1398.0,950.0 1412.0,975.0 1418.0,1005.0 1398.0,1018.0 1378.0,1008.0 1370.0,985.0" fill="#19191b" />
<circle cx="1383" cy="992" r="3" fill="#d6252b"/>
<path d="M1366 905 C1368 930 1370 950 1374 985" fill="none" stroke="#19191b" stroke-width="2.5" />
<path d="M1362 860 L1366 905" fill="none" stroke="#c7c4c6" stroke-width="2.0" />
<path d="M1308.0 719.0 C1309.3 715.2 1314.3 710.4 1318.0 708.0 C1321.7 705.6 1325.5 704.5 1330.0 704.5 C1334.5 704.5 1340.5 705.8 1345.0 708.0 C1349.5 710.2 1354.5 714.3 1357.0 718.0 C1359.5 721.7 1360.8 726.2 1360.0 730.0 C1359.2 733.8 1356.0 738.7 1352.0 741.0 C1348.0 743.3 1341.3 744.2 1336.0 744.0 C1330.7 743.8 1324.3 742.2 1320.0 740.0 C1315.7 737.8 1312.0 734.5 1310.0 731.0 C1308.0 727.5 1306.7 722.8 1308.0 719.0Z" fill="#19191b" stroke="none" stroke-width="0.0" />
<path d="M1314 722 C1324 712 1338 714 1346 724" fill="none" stroke="#5a5a60" stroke-width="3.0" opacity="0.8"/>
<polygon points="1363.2,713.5 1372.8,712.5 1374.2,741.5 1364.6,742.5" fill="#19191b" />
<path d="M1370.5 716 L1371.5 738" fill="none" stroke="#77777c" stroke-width="1.6" />
<polygon points="1334.7,729.7 1359.5,721.0 1390.6,805.5 1364.5,812.0" fill="#19191b" />
<path d="M1351 728 L1381 806" fill="none" stroke="#6a6a70" stroke-width="3.0" opacity="0.9"/>
<polygon points="1359.0,806.0 1391.0,799.0 1394.5,812.0 1362.0,821.0" fill="#232326" />
<path d="M1366.0 752.0 C1365.8 748.7 1368.4 748.3 1370.7 747.1 C1373.0 745.9 1376.5 744.6 1380.0 745.0 C1383.5 745.4 1387.8 743.9 1391.8 749.6 C1395.8 755.3 1400.9 770.3 1404.2 779.4 C1407.5 788.5 1410.2 795.9 1411.7 804.2 C1413.2 812.5 1413.1 820.7 1413.5 829.0 C1413.9 837.3 1413.7 847.7 1414.2 853.9 C1414.7 860.1 1419.0 863.6 1416.6 866.3 C1414.2 869.0 1404.1 874.4 1400.0 870.0 C1395.9 865.6 1394.0 851.0 1392.0 840.0 C1390.0 829.0 1390.1 813.3 1388.0 804.2 C1385.9 795.1 1382.1 791.8 1379.4 785.6 C1376.7 779.4 1374.2 772.6 1372.0 767.0 C1369.8 761.4 1366.2 755.3 1366.0 752.0Z" fill="#f4c2d3" stroke="none" stroke-width="0.0" />
<path d="M1378 752 C1390 775 1398 805 1400 850" fill="none" stroke="#e3a9be" stroke-width="2.2" opacity="0.55"/>
<path d="M1360.7 820.4 C1363.0 814.1 1387.2 809.7 1391.8 812.0 C1396.4 814.3 1397.1 833.7 1400.0 840.0 C1402.9 846.3 1413.0 857.0 1416.6 866.3 C1420.2 875.6 1425.5 905.3 1431.0 920.0 C1436.5 934.7 1458.2 980.8 1463.5 992.5 C1468.8 1004.2 1474.1 1014.9 1476.0 1020.0 C1477.9 1025.1 1480.2 1033.0 1480.0 1036.0 C1479.8 1039.0 1476.3 1044.8 1474.0 1046.0 C1471.7 1047.2 1463.0 1047.2 1460.0 1046.0 C1457.0 1044.8 1450.6 1039.2 1448.0 1036.0 C1445.4 1032.8 1441.8 1026.2 1437.6 1018.3 C1433.4 1010.4 1417.8 979.5 1412.0 968.0 C1406.2 956.5 1392.7 931.9 1388.0 920.0 C1383.3 908.1 1375.2 877.6 1372.0 866.0 C1368.8 854.4 1358.4 826.7 1360.7 820.4Z" fill="#f4c2d3" stroke="none" stroke-width="0.0" />
<path d="M1394 828 C1412 880 1440 950 1470 1016" fill="none" stroke="#fbe0e8" stroke-width="4.0" opacity="0.85"/>
<path d="M1366 832 C1380 900 1410 960 1440 1018" fill="none" stroke="#e3a9be" stroke-width="3.0" opacity="0.45"/>
<path d="M1404 872 L1412 868" fill="none" stroke="#e3a9be" stroke-width="2.0" opacity="0.7"/>
<circle cx="1467" cy="1031" r="8.5" fill="#9a9698"/><circle cx="1467" cy="1031" r="4.5" fill="#4b4b4d"/>
<circle cx="1475.0" cy="1012.0" r="3.6" fill="#222224"/>
<circle cx="1481.6" cy="1027.7" r="3.6" fill="#222224"/>
<circle cx="1469.7" cy="1044.0" r="3.6" fill="#222224"/>
<circle cx="1451.6" cy="1041.0" r="3.6" fill="#222224"/>
<polygon points="1375.0,868.0 1386.0,864.0 1392.0,884.0 1381.0,888.0" fill="#dfe3ee" />
<polygon points="899.0,872.0 912.0,868.0 917.0,892.0 904.0,897.0" fill="#19191b" />
<polygon points="900.0,880.0 904.0,879.0 905.0,888.0 901.0,889.0" fill="#d98a2b" />
<polygon points="936.0,868.0 956.0,864.0 958.0,870.0 938.0,874.0" fill="#19191b" />
<polygon points="920.0,930.0 936.0,924.0 950.0,960.0 966.0,962.0 970.0,982.0 930.0,990.0 926.0,960.0" fill="#19191b" />
<polygon points="936.0,956.0 966.0,950.0 970.0,962.0 940.0,968.0" fill="#202022" />
<path d="M897 1010 C905 985 925 975 950 972" fill="none" stroke="#19191b" stroke-width="5.0" />
<circle cx="972.7" cy="1040.5" r="75" fill="#19191b"/>
<circle cx="972.7" cy="1040.5" r="66" fill="none" stroke="#333336" stroke-width="3"/>
<circle cx="972.7" cy="1040.5" r="58" fill="none" stroke="#2a2a2d" stroke-width="6"/>
<circle cx="972.7" cy="1040.5" r="47" fill="none" stroke="#3a3a3e" stroke-width="2.5" stroke-dasharray="30 14"/>
<circle cx="972.7" cy="1040.5" r="30" fill="none" stroke="#d9a7b9" stroke-width="7" stroke-dasharray="9 22" opacity="0.8"/>
<circle cx="972.7" cy="1040.5" r="20" fill="#151517"/>
<polygon points="960.0,1030.0 986.0,1024.0 1030.0,1160.0 1012.0,1168.0" fill="#111113" />
<path d="M982 1034 L1024 1160" fill="none" stroke="#3b3b3f" stroke-width="2.5" />
<circle cx="972.7" cy="1040.5" r="14" fill="#1f1f22"/>
<polygon points="989.0,1172.0 1054.0,1164.0 1058.0,1200.0 996.0,1210.0 988.0,1196.0" fill="#151517" />
<polygon points="997.0,1180.0 1012.0,1178.0 1014.0,1196.0 999.0,1199.0" fill="#2e2e31" />
<polygon points="1032.0,1176.0 1048.0,1174.0 1050.0,1190.0 1035.0,1193.0" fill="#2e2e31" />
<circle cx="1022" cy="1192" r="10.5" fill="#27272a"/>
<polygon points="846.7,650.0 864.0,645.0 891.0,730.0 868.5,734.0" fill="#222225" />
<path d="M858 650 L884 730" fill="none" stroke="#4b4b50" stroke-width="2.5" />
<polygon points="866.0,730.0 894.0,726.0 897.0,742.0 870.0,746.0" fill="#19191b" />
<path d="M894 736 C902 726 910 728 908 734 C906 740 898 740 894 738" fill="none" stroke="#19191b" stroke-width="3.5" />
<polygon points="857.0,739.0 870.0,737.0 872.0,746.0 858.0,748.0" fill="#6a6a6e" />
<polygon points="860.0,755.0 902.0,748.0 903.0,760.0 862.0,768.0" fill="#19191b" />
<path d="M848.0 748.0 C848.7 744.0 850.8 743.0 853.0 746.0 C855.2 749.0 859.5 759.0 861.0 766.0 C862.5 773.0 862.7 784.0 862.0 788.0 C861.3 792.0 859.2 793.0 857.0 790.0 C854.8 787.0 850.5 777.0 849.0 770.0 C847.5 763.0 847.3 752.0 848.0 748.0Z" fill="#d3222a" stroke="none" stroke-width="0.0" />
<path d="M856 752 C862 768 862 780 860 789" fill="none" stroke="#7d1317" stroke-width="2.5" />
<path d="M786 637 C800 644 820 642 836 650 C860 646 880 632 900 620" fill="none" stroke="#19191b" stroke-width="3.5" />
<path d="M790 632 C806 640 824 638 838 646" fill="none" stroke="#19191b" stroke-width="2.5" />
<circle cx="833.5" cy="651" r="10.5" fill="#19191b"/><circle cx="833.5" cy="651" r="4" fill="#555"/>
<polygon points="848.0,628.0 858.0,624.0 864.0,650.0 850.0,654.0" fill="#19191b" />
<path d="M723.0 611.0 C723.0 612.2 732.0 618.5 739.0 622.0 C746.0 625.5 757.0 629.0 765.0 632.0 C773.0 635.0 779.7 639.7 787.0 640.0 C794.3 640.3 800.2 636.0 809.0 634.0 C817.8 632.0 827.2 630.2 840.0 628.0 C852.8 625.8 870.5 623.0 886.0 621.0 C901.5 619.0 921.5 618.2 933.0 616.0 C944.5 613.8 951.0 611.0 955.0 608.0 C959.0 605.0 957.8 600.0 957.0 598.0 C956.2 596.0 954.5 594.7 950.0 596.0 C945.5 597.3 940.7 603.7 930.0 606.0 C919.3 608.3 901.0 608.2 886.0 610.0 C871.0 611.8 853.0 614.8 840.0 617.0 C827.0 619.2 816.8 621.0 808.0 623.0 C799.2 625.0 794.2 629.0 787.0 629.0 C779.8 629.0 773.0 625.3 765.0 623.0 C757.0 620.7 746.0 617.0 739.0 615.0 C732.0 613.0 723.0 609.8 723.0 611.0Z" fill="#f2cad6" stroke="none" stroke-width="0.0" />
<path d="M720.2 601.9 C720.3 599.2 722.2 596.7 724.0 595.0 C725.8 593.3 722.1 592.1 731.0 591.8 C739.9 591.5 759.5 593.5 777.6 593.4 C795.7 593.3 819.1 591.9 839.8 591.0 C860.5 590.1 886.4 588.4 901.9 588.0 C917.4 587.6 925.2 588.2 932.9 588.7 C940.6 589.2 944.4 589.7 948.0 591.0 C951.6 592.3 953.3 594.5 954.7 596.5 C956.1 598.5 957.0 601.2 956.2 603.0 C955.4 604.8 953.9 605.6 950.0 607.0 C946.1 608.4 943.5 609.9 932.9 611.2 C922.3 612.6 901.8 613.3 886.3 615.1 C870.8 616.9 852.7 619.9 839.8 622.1 C826.9 624.3 817.5 626.2 808.7 628.3 C799.9 630.4 794.2 634.5 787.0 634.5 C779.8 634.5 773.2 630.6 765.2 628.3 C757.2 626.0 745.8 623.5 738.8 620.6 C731.8 617.8 726.4 614.3 723.3 611.2 C720.2 608.1 720.1 604.6 720.2 601.9Z" fill="#232326" stroke="none" stroke-width="0.0" />
<path d="M735.0 597.0 C742.2 597.2 760.5 598.2 778.0 598.0 C795.5 597.8 819.3 596.8 840.0 596.0 C860.7 595.2 885.3 593.3 902.0 593.0 C918.7 592.7 933.7 593.8 940.0 594.0" fill="none" stroke="#3d3d41" stroke-width="3.0" opacity="0.8"/>
<polygon points="1264.0,606.0 1302.0,594.0 1305.0,602.0 1267.0,614.0" fill="#2b2326" />
<polygon points="1266.0,580.0 1293.0,572.0 1302.0,596.0 1270.0,606.0" fill="#19191b" />
<path d="M1284 578 L1292 598" fill="none" stroke="#6a6a70" stroke-width="3.0" />
<polygon points="1255.0,566.0 1275.0,560.0 1282.0,584.0 1260.0,590.0" fill="#19191b" />
<circle cx="1259" cy="580" r="3" fill="#777"/>
<circle cx="1254.5" cy="563.5" r="3.2" fill="#8a8a8e"/>
<polygon points="1258.0,556.0 1322.0,548.0 1330.0,562.0 1300.0,572.0 1268.0,584.0" fill="#19191b" />
<path d="M1278.0 506.0 C1278.3 502.7 1281.0 499.5 1284.0 498.0 C1287.0 496.5 1292.0 496.2 1296.0 497.0 C1300.0 497.8 1305.3 500.5 1308.0 503.0 C1310.7 505.5 1314.0 509.2 1312.0 512.0 C1310.0 514.8 1301.0 519.0 1296.0 520.0 C1291.0 521.0 1285.0 520.3 1282.0 518.0 C1279.0 515.7 1277.7 509.3 1278.0 506.0Z" fill="#19191b" stroke="none" stroke-width="0.0" />
<path d="M1321.0 550.0 C1324.8 546.0 1343.8 542.3 1349.0 544.0 C1354.2 545.7 1353.5 555.7 1352.0 560.0 C1350.5 564.3 1344.3 568.7 1340.0 570.0 C1335.7 571.3 1329.2 571.3 1326.0 568.0 C1322.8 564.7 1317.2 554.0 1321.0 550.0Z" fill="#19191b" stroke="none" stroke-width="0.0" />
<polygon points="1334.0,500.0 1338.0,497.0 1360.0,497.0 1362.0,506.0 1340.0,508.0" fill="#19191b" />
<path d="M1352 499 L1353 506" fill="none" stroke="#5a5a5f" stroke-width="3.0" />
<polygon points="1350.0,512.0 1376.0,508.0 1396.0,520.0 1422.0,522.0 1423.0,532.0 1392.0,536.0 1376.0,546.0 1352.0,546.0" fill="#19191b" />
<path d="M1362 530 L1392 528" fill="none" stroke="#55555a" stroke-width="3.0" />
<ellipse cx="1372" cy="542" rx="9" ry="5" fill="#2a2a2d"/>
<path d="M1384 540 C1430 560 1458 610 1440 650 C1420 690 1360 704 1300 716" fill="none" stroke="#19191b" stroke-width="2.6" />
<path d="M1380 546 C1416 570 1432 616 1416 650 C1400 686 1350 700 1310 708" fill="none" stroke="#19191b" stroke-width="2.6" />
<path d="M1372 548 C1340 600 1312 650 1306 700 C1302 730 1310 760 1330 790" fill="none" stroke="#19191b" stroke-width="2.6" />
<path d="M1366 548 C1336 596 1300 650 1300 704" fill="none" stroke="#19191b" stroke-width="2.4" />
<path d="M1300 716 C1280 724 1262 736 1256 742" fill="none" stroke="#19191b" stroke-width="2.4" />
<polygon points="1248.0,740.0 1256.0,736.0 1260.0,746.0 1252.0,750.0" fill="#f4c2d3" />
<clipPath id="handclip"><rect x="1257" y="495" width="105" height="75"/></clipPath><path d="M1019.8 187.1 C1032.2 186.8 1038.4 187.3 1050.8 190.2 C1063.2 193.1 1071.0 195.9 1081.9 201.8 C1092.8 207.7 1097.1 212.1 1105.2 219.7 C1113.3 227.3 1117.4 233.4 1122.2 239.9 C1127.0 246.4 1124.8 246.4 1129.2 252.3 C1133.6 258.2 1140.3 264.1 1144.0 269.4 C1147.7 274.7 1147.9 275.0 1147.9 278.7 C1147.9 282.4 1148.5 285.1 1144.0 288.0 C1139.5 290.9 1129.5 290.0 1125.3 293.4 C1121.1 296.8 1123.6 300.4 1123.0 305.1 C1122.4 309.8 1121.1 312.4 1122.2 316.7 C1123.3 321.0 1125.7 322.4 1128.4 326.8 C1131.1 331.2 1134.6 335.1 1135.9 338.5 C1137.2 341.9 1136.7 342.0 1134.7 343.9 C1132.7 345.8 1128.0 345.3 1126.1 347.8 C1124.2 350.3 1125.2 353.8 1125.3 356.3 C1125.4 358.8 1127.1 357.7 1126.6 360.2 C1126.1 362.7 1124.6 365.4 1123.0 368.8 C1121.4 372.2 1119.6 373.6 1118.4 377.3 C1117.2 381.0 1117.9 383.7 1116.8 387.4 C1115.7 391.1 1115.1 393.4 1112.9 395.9 C1110.7 398.4 1110.6 399.6 1105.9 400.1 C1101.2 400.6 1096.6 398.5 1089.6 398.3 C1082.6 398.1 1076.4 397.8 1071.0 399.0 C1065.6 400.2 1064.6 401.2 1062.5 404.5 C1060.4 407.8 1060.4 411.3 1060.4 415.3 C1060.4 419.3 1058.2 418.5 1062.5 424.7 C1066.8 430.9 1075.3 439.7 1081.9 446.4 C1088.5 453.1 1089.9 451.5 1095.6 458.2 C1101.3 464.9 1106.0 471.5 1110.5 479.8 C1115.0 488.1 1115.6 491.0 1117.9 499.6 C1120.2 508.2 1121.0 515.5 1122.1 522.8 C1123.2 530.1 1122.9 532.7 1123.2 536.0 C1123.5 539.3 1123.4 538.7 1123.4 539.4 C1123.4 540.1 1114.4 539.7 1123.4 539.4 C1132.4 539.1 1153.1 538.4 1168.4 538.1 C1183.7 537.8 1185.6 539.0 1200.0 538.0 C1214.4 537.0 1228.3 535.0 1240.4 533.3 C1252.5 531.6 1253.6 531.3 1260.6 529.3 C1267.6 527.3 1268.7 526.3 1275.4 523.2 C1282.1 520.1 1287.7 517.2 1294.2 513.8 C1300.7 510.4 1303.1 508.5 1307.7 506.4 C1312.3 504.3 1312.8 503.8 1317.1 503.1 C1321.4 502.4 1324.4 502.0 1329.2 503.1 C1334.0 504.2 1337.3 505.7 1341.3 508.4 C1345.3 511.1 1346.8 513.0 1349.4 516.5 C1352.0 520.0 1353.0 522.1 1354.1 525.9 C1355.2 529.7 1355.5 531.9 1354.8 535.4 C1354.1 538.9 1353.1 540.4 1350.7 543.4 C1348.3 546.4 1346.4 548.2 1342.6 550.2 C1338.8 552.2 1336.7 552.7 1331.9 553.5 C1327.1 554.3 1324.3 554.3 1318.4 554.2 C1312.5 554.1 1309.3 552.9 1302.3 552.9 C1295.3 552.9 1290.9 553.1 1283.4 554.2 C1275.9 555.3 1273.2 555.8 1264.6 558.2 C1256.0 560.6 1250.6 563.1 1240.4 566.3 C1230.2 569.5 1221.3 572.2 1213.5 574.4 C1205.7 576.6 1212.3 574.7 1201.6 577.5 C1190.9 580.3 1174.5 585.0 1160.2 588.2 C1145.9 591.4 1137.0 592.3 1130.0 593.5 C1123.0 594.7 1126.3 593.9 1125.4 594.0 C1124.5 594.1 1125.4 591.7 1125.4 594.0 C1125.4 596.3 1125.2 596.6 1125.4 605.6 C1125.6 614.6 1125.9 627.9 1126.2 638.8 C1126.5 649.7 1127.0 655.2 1127.0 660.3 C1127.0 665.4 1127.5 663.2 1126.2 664.4 C1124.9 665.6 1121.5 663.9 1120.4 666.1 C1119.3 668.3 1119.9 670.7 1120.7 675.2 C1121.5 679.7 1123.3 683.2 1124.6 688.5 C1125.9 693.8 1126.7 695.7 1127.0 701.7 C1127.3 707.7 1126.7 711.0 1126.2 718.3 C1125.7 725.6 1125.2 731.1 1124.6 738.1 C1124.0 745.1 1123.6 745.1 1123.4 753.5 C1123.2 761.9 1123.7 768.7 1123.4 780.0 C1123.1 791.3 1122.9 799.6 1122.0 810.0 C1121.1 820.4 1125.4 818.0 1119.0 832.0 C1112.6 846.0 1103.4 860.4 1090.0 880.0 C1076.6 899.6 1063.2 910.0 1052.0 930.0 C1040.8 950.0 1038.4 958.0 1034.0 980.0 C1029.6 1002.0 1032.5 1016.2 1030.0 1040.0 C1027.5 1063.8 1023.6 1082.1 1021.7 1098.8 C1019.8 1115.5 1019.7 1112.8 1020.3 1123.5 C1020.9 1134.2 1021.7 1142.8 1024.6 1152.5 C1027.5 1162.2 1028.0 1165.3 1035.0 1172.0 C1042.0 1178.7 1051.6 1182.2 1059.4 1185.8 C1067.2 1189.4 1065.8 1188.1 1073.9 1190.1 C1082.0 1192.1 1091.3 1193.3 1100.0 1195.9 C1108.7 1198.5 1112.5 1200.6 1117.4 1203.2 C1122.3 1205.8 1123.1 1206.4 1124.3 1209.0 C1125.5 1211.6 1125.2 1212.7 1123.2 1216.2 C1121.2 1219.7 1120.0 1222.9 1114.5 1226.4 C1109.0 1229.9 1103.8 1231.3 1095.7 1233.6 C1087.6 1235.9 1084.1 1237.0 1073.9 1238.0 C1063.7 1239.0 1059.4 1238.7 1044.9 1238.7 C1030.4 1238.7 1017.9 1238.4 1001.4 1238.0 C984.9 1237.6 973.3 1237.7 962.3 1236.5 C951.3 1235.3 950.9 1234.2 946.4 1232.2 C941.9 1230.2 941.6 1229.0 939.9 1226.4 C938.2 1223.8 937.7 1223.7 938.0 1219.1 C938.3 1214.5 939.6 1210.7 941.3 1203.2 C943.0 1195.7 944.8 1189.5 946.4 1181.4 C948.0 1173.3 947.1 1168.4 949.3 1162.6 C951.5 1156.8 954.9 1157.4 957.2 1152.5 C959.5 1147.6 959.9 1145.5 960.9 1138.0 C961.9 1130.5 961.5 1126.4 962.3 1114.8 C963.1 1103.2 963.1 1095.0 965.0 1080.0 C966.9 1065.0 968.8 1054.0 972.0 1040.0 C975.2 1026.0 978.2 1018.9 981.0 1010.0 C983.8 1001.1 984.3 1003.9 986.1 995.7 C987.9 987.5 988.6 978.2 990.2 968.8 C991.8 959.4 993.0 956.7 994.2 948.6 C995.4 940.5 995.8 936.5 996.2 928.4 C996.6 920.3 996.9 916.0 996.2 908.2 C995.5 900.4 995.1 896.6 992.9 889.4 C990.7 882.2 989.0 878.2 985.0 872.0 C981.0 865.8 974.5 864.3 972.7 858.4 C970.9 852.5 974.8 848.8 976.0 842.3 C977.2 835.8 978.4 832.6 978.7 826.1 C979.0 819.6 978.5 816.5 977.4 810.0 C976.3 803.5 975.1 801.1 973.3 793.8 C971.5 786.5 970.3 781.7 968.6 773.6 C966.9 765.5 965.9 758.6 964.6 753.5 C963.3 748.4 963.2 752.5 962.2 748.1 C961.2 743.7 960.6 738.8 959.8 731.5 C959.0 724.2 958.6 719.5 958.1 711.6 C957.6 703.7 957.1 698.4 957.3 691.8 C957.5 685.2 957.6 683.0 958.9 678.5 C960.2 674.0 961.7 671.9 963.9 669.4 C966.1 666.9 968.5 668.5 969.7 666.1 C970.9 663.7 971.0 659.3 969.7 657.3 C968.4 655.3 965.7 657.2 963.4 656.1 C961.1 655.0 959.5 654.6 958.1 652.0 C956.7 649.4 956.5 646.5 956.4 642.9 C956.3 639.3 957.4 638.6 957.8 633.8 C958.2 629.0 958.5 625.9 958.4 618.9 C958.3 611.9 958.2 607.3 957.3 599.0 C956.4 590.7 955.3 586.1 954.0 577.5 C952.7 568.9 951.8 564.8 950.6 555.9 C949.4 547.0 948.9 542.1 948.2 532.8 C947.5 523.5 947.0 518.9 947.0 509.6 C947.0 500.3 947.0 496.0 948.2 486.4 C949.4 476.8 950.9 468.6 953.1 461.5 C955.3 454.4 956.1 456.9 959.2 451.1 C962.3 445.3 964.5 439.9 968.5 432.4 C972.5 424.9 976.0 420.3 979.4 413.8 C982.8 407.3 983.9 405.1 985.6 399.8 C987.3 394.5 987.9 392.7 987.9 387.4 C987.9 382.1 987.0 377.7 985.6 373.4 C984.2 369.1 983.4 367.7 980.9 366.0 C978.4 364.3 977.4 365.7 973.2 364.9 C969.0 364.1 963.4 363.5 960.0 361.8 C956.6 360.1 957.8 359.6 956.1 356.3 C954.4 353.0 954.2 348.4 951.4 345.5 C948.6 342.6 946.4 344.1 942.1 341.6 C937.8 339.1 933.7 335.6 929.7 333.0 C925.7 330.4 924.7 332.4 921.9 328.4 C919.1 324.4 918.2 319.7 915.7 312.9 C913.2 306.1 911.4 301.7 909.5 294.2 C907.6 286.7 906.9 281.0 906.4 275.6 C905.9 270.2 904.7 272.3 907.2 267.0 C909.7 261.7 912.7 257.4 918.8 249.2 C924.9 241.0 929.1 234.6 937.5 225.9 C945.9 217.2 950.5 212.5 960.7 205.7 C970.9 198.9 976.9 195.4 988.7 191.7 C1000.5 188.0 1007.4 187.4 1019.8 187.1Z" fill="#808080" clip-path="url(#handclip)"/>
<path d="M397.0 1426.2 L921.0 1426.2 L921.0 1531.8 L305.0 1531.8 L305.0 1514.2 C305.0 1463.2 343.6 1426.2 397.0 1426.2Z" fill="#ff78a4"/>
<path d="M1337.5 1426.2 L1861.0 1426.2 L1861.0 1531.8 L1245.5 1531.8 L1245.5 1514.2 C1245.5 1463.2 1284.1 1426.2 1337.5 1426.2Z" fill="#ff78a4"/>
<path d="M397.0 1741.2 L921.0 1741.2 L921.0 1846.8 L305.0 1846.8 L305.0 1829.2 C305.0 1778.2 343.6 1741.2 397.0 1741.2Z" fill="#ff78a4"/>
<path d="M1337.5 1741.2 L1861.0 1741.2 L1861.0 1846.8 L1245.5 1846.8 L1245.5 1829.2 C1245.5 1778.2 1284.1 1741.2 1337.5 1741.2Z" fill="#ff78a4"/>
<path d="M452.36 1463.20 L462.51 1463.20 L472.80 1495.80 L464.93 1495.80 L463.14 1489.38 L451.56 1489.38 L449.67 1495.80 L442.00 1495.80ZM457.43 1472.20 L461.18 1482.83 L453.58 1482.83ZM478.45 1463.20 L495.15 1463.20 L499.80 1467.44 L499.80 1474.12 L491.50 1474.12 L491.50 1469.65 L481.85 1469.65 L481.85 1489.38 L491.50 1489.38 L491.50 1484.88 L487.57 1484.88 L487.57 1478.36 L499.80 1478.36 L499.80 1491.56 L495.15 1495.80 L478.45 1495.80 L473.80 1491.56 L473.80 1467.44ZM505.80 1463.20 L526.10 1463.20 L526.10 1469.65 L513.46 1469.65 L513.46 1476.37 L524.02 1476.37 L524.02 1482.83 L513.46 1482.83 L513.46 1489.38 L526.10 1489.38 L526.10 1495.80 L505.80 1495.80ZM547.80 1463.20 L568.64 1463.20 L573.42 1467.44 L573.42 1479.01 L570.05 1482.27 L575.20 1495.80 L566.45 1495.80 L561.26 1482.83 L556.11 1482.83 L556.11 1495.80 L547.80 1495.80ZM556.11 1469.65 L565.37 1469.65 L565.37 1476.27 L556.11 1476.27ZM585.22 1463.20 L595.34 1463.20 L605.60 1495.80 L597.76 1495.80 L595.97 1489.38 L584.43 1489.38 L582.54 1495.80 L574.90 1495.80ZM590.28 1472.20 L594.02 1482.83 L586.45 1482.83ZM609.40 1463.20 L621.05 1463.20 L629.98 1480.67 L629.98 1463.20 L638.60 1463.20 L638.60 1495.80 L626.87 1495.80 L618.10 1478.85 L618.10 1495.80 L609.40 1495.80ZM645.60 1463.20 L662.50 1463.20 L667.20 1467.44 L667.20 1474.12 L658.81 1474.12 L658.81 1469.65 L649.04 1469.65 L649.04 1489.38 L658.81 1489.38 L658.81 1484.88 L654.83 1484.88 L654.83 1478.36 L667.20 1478.36 L667.20 1491.56 L662.50 1495.80 L645.60 1495.80 L640.90 1491.56 L640.90 1467.44ZM672.00 1463.20 L692.70 1463.20 L692.70 1469.65 L679.81 1469.65 L679.81 1476.37 L690.58 1476.37 L690.58 1482.83 L679.81 1482.83 L679.81 1489.38 L692.70 1489.38 L692.70 1495.80 L672.00 1495.80ZM697.60 1474.94 L705.40 1474.94 L705.40 1482.11 L697.60 1482.11ZM697.60 1488.63 L705.40 1488.63 L705.40 1495.80 L697.60 1495.80Z" fill="#fff" stroke="#fff" stroke-width="0.8" stroke-linejoin="miter" fill-rule="evenodd"/>
<path d="M1370.60 1463.20 L1379.17 1463.20 L1383.55 1483.41 L1388.84 1463.20 L1396.86 1463.20 L1402.15 1483.41 L1406.53 1463.20 L1415.10 1463.20 L1407.08 1495.80 L1398.32 1495.80 L1392.85 1474.94 L1387.38 1495.80 L1378.62 1495.80ZM1417.50 1463.20 L1424.96 1463.20 L1424.96 1476.27 L1434.08 1476.27 L1434.08 1463.20 L1441.50 1463.20 L1441.50 1495.80 L1434.08 1495.80 L1434.08 1482.83 L1424.96 1482.83 L1424.96 1495.80 L1417.50 1495.80ZM1447.00 1463.20 L1466.40 1463.20 L1466.40 1469.65 L1454.32 1469.65 L1454.32 1476.37 L1464.41 1476.37 L1464.41 1482.83 L1454.32 1482.83 L1454.32 1489.38 L1466.40 1489.38 L1466.40 1495.80 L1447.00 1495.80ZM1471.80 1463.20 L1491.20 1463.20 L1491.20 1469.65 L1479.12 1469.65 L1479.12 1476.37 L1489.21 1476.37 L1489.21 1482.83 L1479.12 1482.83 L1479.12 1489.38 L1491.20 1489.38 L1491.20 1495.80 L1471.80 1495.80ZM1498.20 1463.20 L1506.18 1463.20 L1506.18 1489.38 L1518.50 1489.38 L1518.50 1495.80 L1498.20 1495.80ZM1546.30 1463.20 L1562.77 1463.20 L1567.30 1467.44 L1567.30 1472.59 L1559.33 1472.59 L1559.33 1469.65 L1549.49 1469.65 L1549.49 1476.27 L1562.52 1476.27 L1567.30 1480.51 L1567.30 1491.56 L1562.77 1495.80 L1546.30 1495.80 L1541.70 1491.56 L1541.70 1486.44 L1549.49 1486.44 L1549.49 1489.38 L1559.33 1489.38 L1559.33 1482.83 L1546.48 1482.83 L1541.70 1478.52 L1541.70 1467.44ZM1573.50 1463.20 L1583.60 1463.20 L1583.60 1495.80 L1573.50 1495.80ZM1588.45 1463.20 L1609.20 1463.20 L1609.20 1468.90 L1597.78 1489.38 L1608.25 1489.38 L1608.25 1495.80 L1587.50 1495.80 L1587.50 1490.68 L1599.23 1469.65 L1588.45 1469.65ZM1614.70 1463.20 L1634.00 1463.20 L1634.00 1469.65 L1621.99 1469.65 L1621.99 1476.37 L1632.02 1476.37 L1632.02 1482.83 L1621.99 1482.83 L1621.99 1489.38 L1634.00 1489.38 L1634.00 1495.80 L1614.70 1495.80ZM1638.70 1474.94 L1646.00 1474.94 L1646.00 1482.11 L1638.70 1482.11ZM1638.70 1488.63 L1646.00 1488.63 L1646.00 1495.80 L1638.70 1495.80Z" fill="#fff" stroke="#fff" stroke-width="0.8" stroke-linejoin="miter" fill-rule="evenodd"/>
<path d="M412.00 1777.80 L431.77 1777.80 L436.31 1782.06 L436.31 1793.71 L433.11 1796.99 L438.00 1810.60 L429.70 1810.60 L424.77 1797.55 L419.88 1797.55 L419.88 1810.60 L412.00 1810.60ZM419.88 1784.29 L428.68 1784.29 L428.68 1790.95 L419.88 1790.95ZM440.80 1777.80 L451.00 1777.80 L451.00 1810.60 L440.80 1810.60ZM456.00 1777.80 L475.30 1777.80 L479.50 1782.06 L479.50 1806.34 L475.30 1810.60 L456.00 1810.60ZM463.37 1784.29 L472.16 1784.29 L472.16 1804.14 L463.37 1804.14ZM486.20 1777.80 L505.60 1777.80 L505.60 1784.29 L493.52 1784.29 L493.52 1791.05 L503.61 1791.05 L503.61 1797.55 L493.52 1797.55 L493.52 1804.14 L505.60 1804.14 L505.60 1810.60 L486.20 1810.60ZM512.60 1777.80 L534.05 1777.80 L538.97 1782.06 L538.97 1793.71 L535.50 1796.99 L540.80 1810.60 L531.79 1810.60 L526.45 1797.55 L521.15 1797.55 L521.15 1810.60 L512.60 1810.60ZM521.15 1784.29 L530.69 1784.29 L530.69 1790.95 L521.15 1790.95ZM561.90 1777.80 L569.29 1777.80 L569.29 1790.95 L578.34 1790.95 L578.34 1777.80 L585.70 1777.80 L585.70 1810.60 L578.34 1810.60 L578.34 1797.55 L569.29 1797.55 L569.29 1810.60 L561.90 1810.60ZM591.50 1777.80 L610.80 1777.80 L610.80 1784.29 L598.79 1784.29 L598.79 1791.05 L608.82 1791.05 L608.82 1797.55 L598.79 1797.55 L598.79 1804.14 L610.80 1804.14 L610.80 1810.60 L591.50 1810.60ZM616.80 1777.80 L627.00 1777.80 L627.00 1810.60 L616.80 1810.60ZM636.61 1777.80 L653.19 1777.80 L657.80 1782.06 L657.80 1788.79 L649.57 1788.79 L649.57 1784.29 L639.98 1784.29 L639.98 1804.14 L649.57 1804.14 L649.57 1799.61 L645.66 1799.61 L645.66 1793.05 L657.80 1793.05 L657.80 1806.34 L653.19 1810.60 L636.61 1810.60 L632.00 1806.34 L632.00 1782.06ZM663.10 1777.80 L670.59 1777.80 L670.59 1790.95 L679.75 1790.95 L679.75 1777.80 L687.20 1777.80 L687.20 1810.60 L679.75 1810.60 L679.75 1797.55 L670.59 1797.55 L670.59 1810.60 L663.10 1810.60ZM690.40 1777.80 L715.50 1777.80 L715.50 1784.29 L707.26 1784.29 L707.26 1810.60 L698.72 1810.60 L698.72 1784.29 L690.40 1784.29ZM721.70 1789.61 L729.50 1789.61 L729.50 1796.82 L721.70 1796.82ZM721.70 1803.38 L729.50 1803.38 L729.50 1810.60 L721.70 1810.60Z" fill="#fff" stroke="#fff" stroke-width="0.8" stroke-linejoin="miter" fill-rule="evenodd"/>
<path d="M1347.90 1777.80 L1356.72 1777.80 L1361.23 1798.14 L1366.67 1777.80 L1374.93 1777.80 L1380.37 1798.14 L1384.88 1777.80 L1393.70 1777.80 L1385.44 1810.60 L1376.43 1810.60 L1370.80 1789.61 L1365.17 1810.60 L1356.16 1810.60ZM1400.70 1777.80 L1420.60 1777.80 L1420.60 1784.29 L1408.21 1784.29 L1408.21 1791.05 L1418.56 1791.05 L1418.56 1797.55 L1408.21 1797.55 L1408.21 1804.14 L1420.60 1804.14 L1420.60 1810.60 L1400.70 1810.60ZM1426.20 1777.80 L1436.40 1777.80 L1436.40 1810.60 L1426.20 1810.60ZM1446.08 1777.80 L1462.52 1777.80 L1467.10 1782.06 L1467.10 1788.79 L1458.93 1788.79 L1458.93 1784.29 L1449.42 1784.29 L1449.42 1804.14 L1458.93 1804.14 L1458.93 1799.61 L1455.06 1799.61 L1455.06 1793.05 L1467.10 1793.05 L1467.10 1806.34 L1462.52 1810.60 L1446.08 1810.60 L1441.50 1806.34 L1441.50 1782.06ZM1472.30 1777.80 L1479.66 1777.80 L1479.66 1790.95 L1488.67 1790.95 L1488.67 1777.80 L1496.00 1777.80 L1496.00 1810.60 L1488.67 1810.60 L1488.67 1797.55 L1479.66 1797.55 L1479.66 1810.60 L1472.30 1810.60ZM1498.00 1777.80 L1519.00 1777.80 L1519.00 1784.29 L1512.11 1784.29 L1512.11 1810.60 L1504.96 1810.60 L1504.96 1784.29 L1498.00 1784.29ZM1537.10 1777.80 L1545.32 1777.80 L1545.32 1804.14 L1558.00 1804.14 L1558.00 1810.60 L1537.10 1810.60ZM1568.48 1777.80 L1584.92 1777.80 L1589.50 1782.06 L1589.50 1806.34 L1584.92 1810.60 L1568.48 1810.60 L1563.90 1806.34 L1563.90 1782.06ZM1572.00 1784.29 L1581.51 1784.29 L1581.51 1804.14 L1572.00 1804.14ZM1600.56 1777.80 L1611.01 1777.80 L1621.60 1810.60 L1613.50 1810.60 L1611.66 1804.14 L1599.74 1804.14 L1597.79 1810.60 L1589.90 1810.60ZM1605.78 1786.85 L1609.64 1797.55 L1601.82 1797.55ZM1623.70 1777.80 L1643.65 1777.80 L1648.00 1782.06 L1648.00 1806.34 L1643.65 1810.60 L1623.70 1810.60ZM1631.32 1784.29 L1640.41 1784.29 L1640.41 1804.14 L1631.32 1804.14ZM1651.90 1789.61 L1660.00 1789.61 L1660.00 1796.82 L1651.90 1796.82ZM1651.90 1803.38 L1660.00 1803.38 L1660.00 1810.60 L1651.90 1810.60Z" fill="#fff" stroke="#fff" stroke-width="0.8" stroke-linejoin="miter" fill-rule="evenodd"/>
<circle cx="842.7" cy="1460.5" r="69" fill="#fff0ee"/><circle cx="842.7" cy="1460.5" r="66.8" fill="#ea6a40"/>
<circle cx="1782.7" cy="1460.5" r="69" fill="#fff0ee"/><circle cx="1782.7" cy="1460.5" r="66.8" fill="#ea6a40"/>
<circle cx="842.7" cy="1775.5" r="69" fill="#fff0ee"/><circle cx="842.7" cy="1775.5" r="66.8" fill="#ea6a40"/>
<circle cx="1782.7" cy="1775.5" r="69" fill="#fff0ee"/><circle cx="1782.7" cy="1775.5" r="66.8" fill="#ea6a40"/>
<polygon points="826.6,1424 860.3,1421.8 860.3,1497.5 841.8,1497.5 841.8,1437.6 826.6,1437.6" fill="#fff"/>
<g font-family="Liberation Sans, sans-serif" font-weight="bold" fill="#fff" font-size="109">
<text id="n2" x="1750.6" y="1497.5" textLength="64.2" lengthAdjust="spacingAndGlyphs">2</text>
<text id="n3" x="812.2" y="1812.6" textLength="62" lengthAdjust="spacingAndGlyphs">3</text>
<text id="n4" x="1752.7" y="1811.6">4</text>
</g>
<g font-family="Liberation Sans, sans-serif" font-weight="bold" fill="#000">
<text id="v1" x="386.3" y="1606" font-size="57" textLength="392" lengthAdjust="spacingAndGlyphs">9-12 years old</text>
<text id="v2" x="1443.3" y="1619" font-size="57" textLength="137.5" lengthAdjust="spacingAndGlyphs">24 in</text>
<text id="v3" x="457" y="1924.5" font-size="57" textLength="218" lengthAdjust="spacingAndGlyphs">56”-66”</text>
<text id="v4" x="1364.3" y="1924.5" font-size="57" textLength="286.5" lengthAdjust="spacingAndGlyphs">165.35 lbs</text>
</g>
<circle cx="193.1" cy="1423.5" r="17.9" fill="#828081"/>
<path d="M186.6 1445.9 L199.6 1445.9 C207.6 1445.9 211.6 1450 213.8 1458.7 L222.6 1489.2 A4.7 4.7 0 0 1 213.6 1492 L206.3 1464.5 L206.1 1537.5 Q206.1 1539.9 203.7 1539.9 L197.3 1539.9 Q194.9 1539.9 194.9 1537.5 L194.9 1497.4 A1.9 1.9 0 0 0 191.1 1497.4 L191.1 1537.5 Q191.1 1539.9 188.7 1539.9 L182.9 1539.9 Q180.5 1539.9 180.5 1537.5 L180.3 1464.5 L172.9 1492 A4.7 4.7 0 0 1 163.9 1489.2 L172.7 1458.7 C174.9 1450 178.6 1445.9 186.6 1445.9Z" fill="#828081"/>
<circle cx="1136.4" cy="1482.1" r="52.5" fill="none" stroke="#828081" stroke-width="10"/>
<circle cx="1136.4" cy="1482.1" r="13.3" fill="none" stroke="#828081" stroke-width="5.6"/>
<path d="M1151.40 1482.10 L1185.40 1482.10M1147.01 1492.71 L1171.05 1516.75M1136.40 1497.10 L1136.40 1531.10M1125.79 1492.71 L1101.75 1516.75M1121.40 1482.10 L1087.40 1482.10M1125.79 1471.49 L1101.75 1447.45M1136.40 1467.10 L1136.40 1433.10M1147.01 1471.49 L1171.05 1447.45" stroke="#828081" stroke-width="6.6" fill="none"/>
<circle cx="166.6" cy="1729" r="15.5" fill="none" stroke="#828081" stroke-width="5.2"/>
<path d="M143.1 1801.5 L143.1 1774.5 A23.45 23.45 0 0 1 190 1774.5 L190 1801.5 L181.8 1801.5 L181.8 1845.8 L151.3 1845.8 L151.3 1801.5 Z" fill="none" stroke="#828081" stroke-width="5.6" stroke-linejoin="miter"/>
<rect x="162.2" y="1805" width="8.7" height="42" fill="#828081"/>
<rect x="239.2" y="1704" width="6.5" height="143.2" fill="#828081"/>
<rect x="214.8" y="1709.5" width="25" height="6.1" fill="#828081"/>
<rect x="214.8" y="1752.1" width="25" height="6.1" fill="#828081"/>
<rect x="214.8" y="1795.0" width="25" height="6.1" fill="#828081"/>
<rect x="214.8" y="1837.4" width="25" height="6.1" fill="#828081"/>
<rect x="225.6" y="1730.4" width="14" height="6" fill="#828081"/>
<rect x="225.6" y="1773.2" width="14" height="6" fill="#828081"/>
<rect x="225.6" y="1816.1" width="14" height="6" fill="#828081"/>
<circle cx="1137" cy="1744.4" r="14.5" fill="none" stroke="#828081" stroke-width="10.8"/>
<path d="M1104 1753.5 L1170 1753.5 Q1177 1753.5 1179.3 1762.5 L1198.6 1834.5 Q1200.4 1842.7 1192 1842.7 L1082 1842.7 Q1073.6 1842.7 1075.6 1834.5 L1095.4 1762.5 Q1097.6 1753.5 1104 1753.5Z" fill="#828081"/>
<text id="lbs" x="1101.2" y="1829.3" font-family="Liberation Sans, sans-serif" font-weight="bold" font-size="61.5" fill="#feeef1" textLength="76.5" lengthAdjust="spacingAndGlyphs">lbs</text>
</svg></body></html>
